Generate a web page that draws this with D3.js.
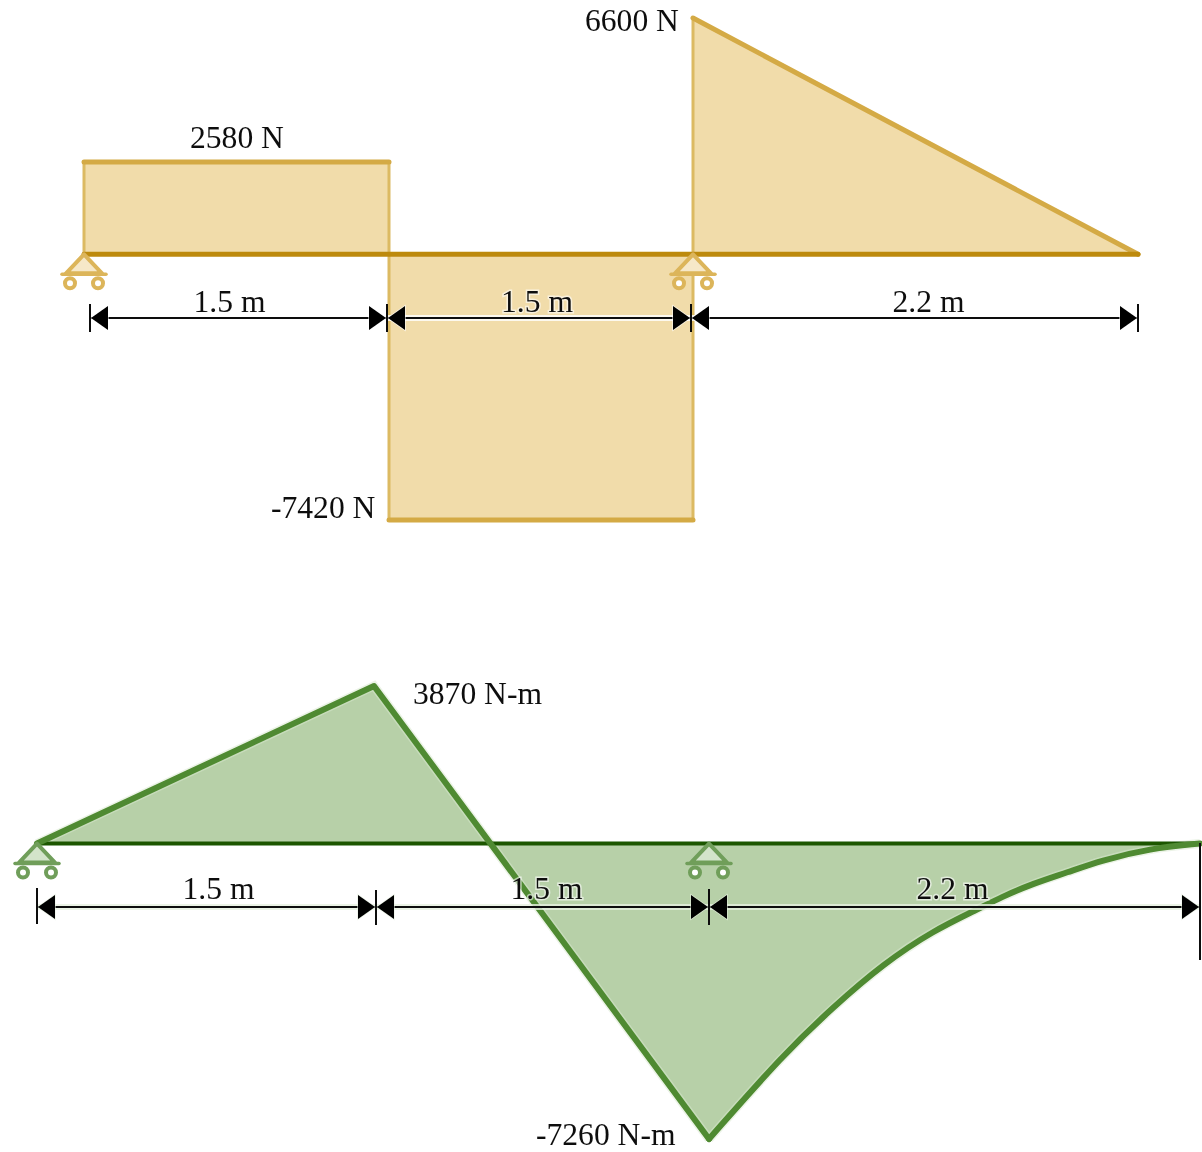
<!DOCTYPE html>
<html><head><meta charset="utf-8">
<style>html,body{margin:0;padding:0;background:#fff}svg{display:block}text{font-family:"Liberation Serif",serif;font-size:31.6px;fill:#111}</style>
<script src="https://cdn.jsdelivr.net/npm/d3@7"></script></head><body>
<script>
// --- data ---
const spanBreaks = [0, 1.5, 3, 5.2];
const spanLabels = ["1.5 m", "1.5 m", "2.2 m"];
const supportsAt = [0, 3];
const shearX = [0, 0, 1.5, 1.5, 3, 3, 5.2];
const shearV = [0, 2580, 2580, -7420, -7420, 6600, 0];
const shearTexts = ["2580 N", "6600 N", "-7420 N"];
const momentLinearX = [0, 1.5, 3];
const momentLinearV = [0, 3870, -7260];
const momentCurveX = [3, 3.335, 3.559, 3.783, 4.006, 4.203, 4.306, 4.454, 4.606, 4.754, 4.977, 5.2];
const momentCurveV = [-7260, -5172, -4005, -2948, -2138, -1620, -1325, -980, -710, -420, -120, 0];
const momentTexts = ["3870 N-m", "-7260 N-m"];

// --- layout ---
const W = 1202, H = 1152;
const svg = d3.select("body").append("svg").attr("width", W).attr("height", H);
const defs = svg.append("defs");
defs.append("filter").attr("id","soft").attr("filterUnits","userSpaceOnUse")
  .attr("x",0).attr("y",0).attr("width",W).attr("height",H)
  .append("feGaussianBlur").attr("stdDeviation",0.55);
const root = svg.append("g").attr("filter","url(#soft)");

const sx = d3.scaleLinear().domain(spanBreaks).range([84, 389, 693, 1138]);
const sy = d3.scaleLinear().domain([-7420, 6600]).range([520, 18]);
const sd = d3.scaleLinear().domain(spanBreaks).range([90, 387, 691, 1138]);
const mx = d3.scaleLinear().domain(spanBreaks).range([37, 374, 709, 1200]);
const my = d3.scaleLinear().domain([-7260, 3870]).range([1139, 686]);
const md = d3.scaleLinear().domain(spanBreaks).range([37, 376, 709, 1200]);

function support(x, y, col, light) {
  const g = root.append("g");
  g.append("path").attr("d", `M${x},${y}L${x-18},${y+19}H${x+18}Z`).attr("fill", light).attr("stroke", col).attr("stroke-width", 4).attr("stroke-linejoin","round");
  g.append("path").attr("d", `M${x-22},${y+20}H${x+22}`).attr("stroke", col).attr("stroke-width", 3.5).attr("stroke-linecap","round");
  [-14, 14].forEach(d => g.append("circle").attr("cx", x+d).attr("cy", y+29).attr("r", 5).attr("fill", "#fff").attr("stroke", col).attr("stroke-width", 4));
}

function dimension(scale, y, halo, labelDx, labelY, tickSpans) {
  const line = root.append("g");
  const bs = spanBreaks.map(b => scale(b));
  line.append("path").attr("d",`M${bs[0]},${y}H${bs[3]}`).attr("stroke", halo).attr("stroke-width", 6).attr("opacity",.8);
  line.append("path").attr("d",`M${bs[0]},${y}H${bs[3]}`).attr("stroke", "#111").attr("stroke-width", 2);
  bs.forEach((b, i) => {
    const t = tickSpans[i];
    const arrow = d => `M${b+d},${y}L${b+d*18},${y-12}V${y+12}Z`;
    if (i < 3) line.append("path").attr("d", arrow(1)).attr("fill","#000").attr("stroke",halo).attr("stroke-width",1.5).attr("stroke-opacity",.7).attr("paint-order","stroke");
    if (i > 0) line.append("path").attr("d", arrow(-1)).attr("fill","#000").attr("stroke",halo).attr("stroke-width",1.5).attr("stroke-opacity",.7).attr("paint-order","stroke");
    line.append("path").attr("d",`M${b},${t[0]}V${t[1]}`).attr("stroke","#111").attr("stroke-width",2);
  });
  spanLabels.forEach((s, i) => {
    root.append("text").attr("x", (bs[i]+bs[i+1])/2 + labelDx[i]).attr("y", labelY)
      .attr("text-anchor","middle").attr("stroke", "#fff").attr("stroke-opacity",.6).attr("stroke-width",3).attr("paint-order","stroke").text(s);
  });
}

function label(s, x, y) { root.append("text").attr("x", x).attr("y", y).text(s); }

// --- shear diagram ---
const shearPts = shearX.map((x, i) => [sx(x), sy(shearV[i])]);
root.append("path").attr("d", d3.line()(shearPts)).attr("fill", "#f1dcaa");
root.append("path").attr("d", d3.line()(shearPts.slice(0,6))).attr("fill","none").attr("stroke", "#dcba62").attr("stroke-width", 3);
[[1,3],[3,5],[5,7]].forEach(([a,b]) =>
  root.append("path").attr("d", d3.line()(shearPts.slice(a,b))).attr("stroke","#d4aa45").attr("stroke-width",5).attr("stroke-linecap","round"));
root.append("path").attr("d", `M${sx(0)},${sy(0)}H${sx(5.2)}`).attr("stroke","#bd8a10").attr("stroke-width",5).attr("stroke-linecap","round");
supportsAt.forEach(p => support(sx(p), sy(0), "#dcb55a", "#f6e8c8"));
dimension(sd, 318, "#fff", [-9, -2, 14], 312, [[304,332],[304,332],[304,332],[304,332]]);
label(shearTexts[0], 190, 148);
label(shearTexts[1], 585, 31);
label(shearTexts[2], 271, 518);

// --- moment diagram ---
const momentPtsA = momentLinearX.map((x, i) => [mx(x), my(momentLinearV[i])]);
const momentPtsB = momentCurveX.map((x, i) => [mx(x), my(momentCurveV[i])]);
const curve = d3.line().curve(d3.curveBasis)(momentPtsB);
const area = d3.line()(momentPtsA) + "L" + curve.slice(1) + "Z";
root.append("path").attr("d", area).attr("fill", "#b7d0a8");
root.append("path").attr("d", d3.line()(momentPtsA)).attr("fill","none").attr("stroke","#d8e8ce").attr("stroke-width",9).attr("opacity",.5);
root.append("path").attr("d", curve).attr("fill","none").attr("stroke","#d8e8ce").attr("stroke-width",9).attr("opacity",.5);
root.append("path").attr("d", `M${mx(0)},${my(0)}H${mx(5.2)}`).attr("stroke","#1c5606").attr("stroke-width",4);
root.append("path").attr("d", d3.line()(momentPtsA)).attr("fill","none").attr("stroke","#4f8a30").attr("stroke-width",6).attr("stroke-linejoin","round").attr("stroke-linecap","round");
root.append("path").attr("d", curve).attr("fill","none").attr("stroke","#4f8a30").attr("stroke-width",6).attr("stroke-linecap","round");
supportsAt.forEach(p => support(mx(p), my(0), "#6f9e5a", "#d3e4ca"));
dimension(md, 907, "#e6f0e0", [12, 4, -2], 899, [[888,924],[890,925],[889,925],[843,960]]);
label(momentTexts[0], 413, 704);
label(momentTexts[1], 536, 1145);
</script></body></html>
